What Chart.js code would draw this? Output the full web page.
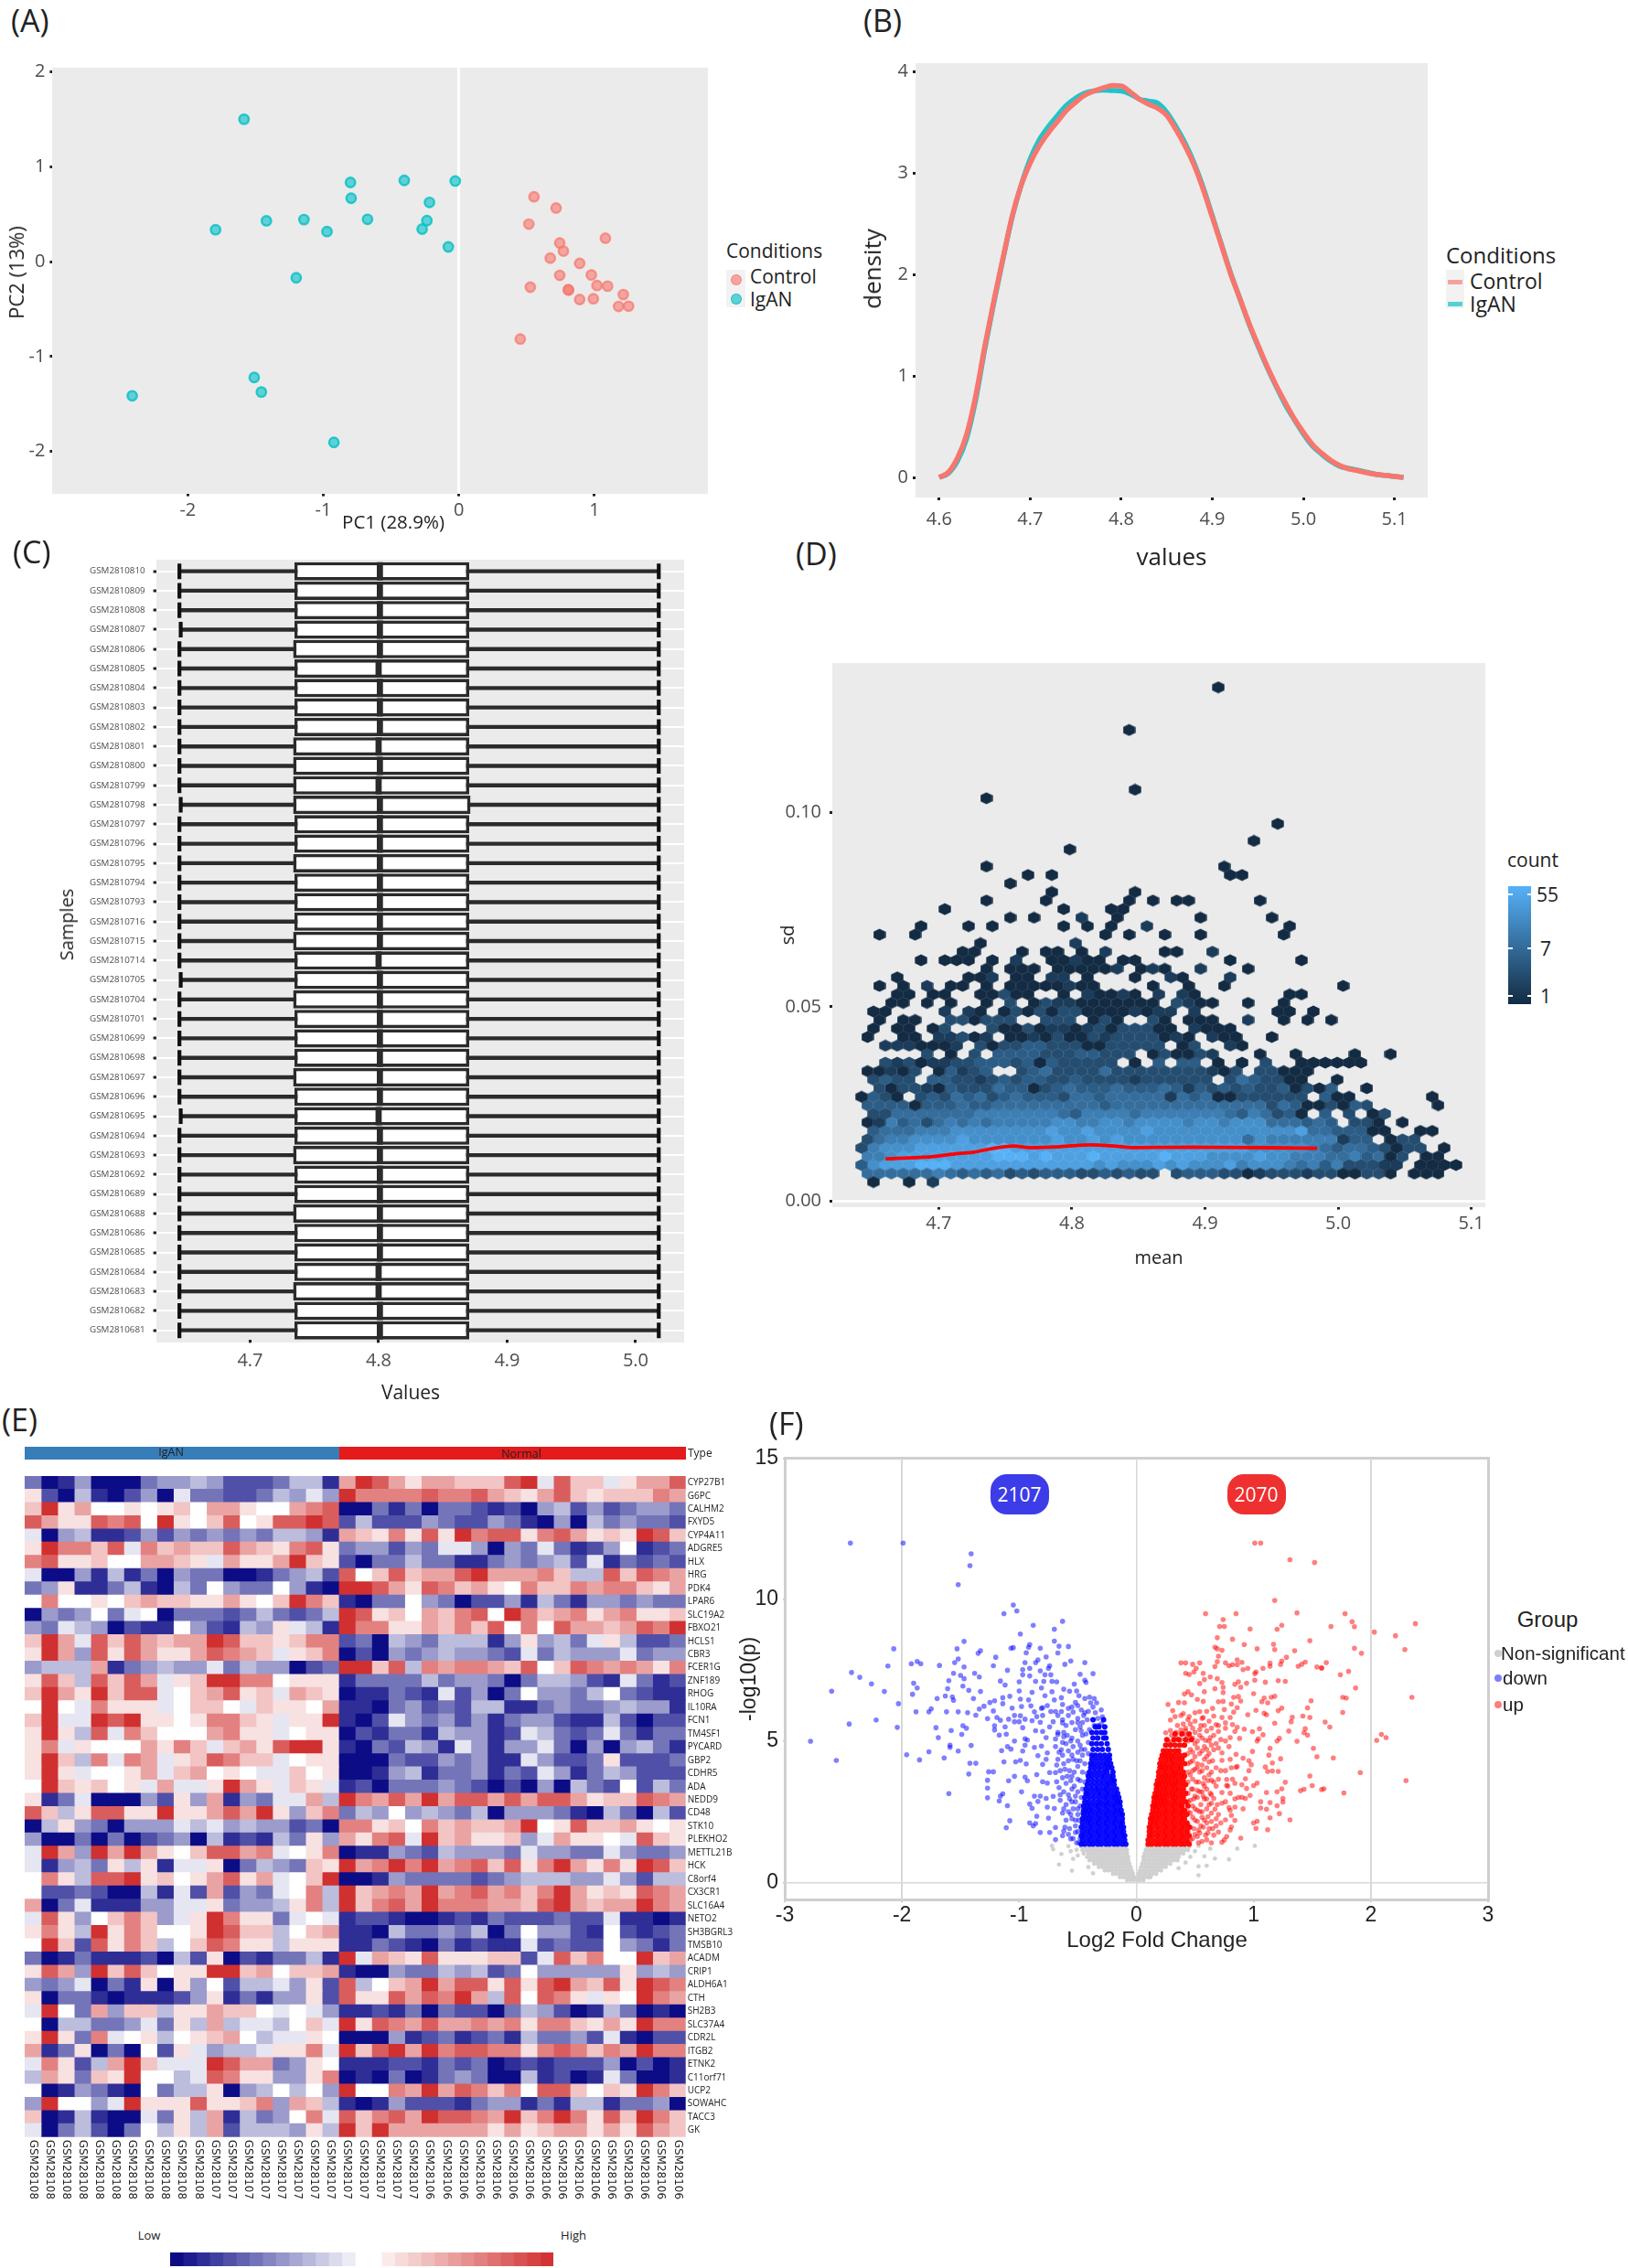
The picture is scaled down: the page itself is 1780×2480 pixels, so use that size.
<!DOCTYPE html>
<html><head><meta charset="utf-8">
<style>html,body{margin:0;padding:0;background:#fff}#page{position:relative;width:1780px;height:2480px;overflow:hidden}canvas{position:absolute}.t{position:absolute;white-space:nowrap;line-height:1}.r{position:absolute}</style>
<script src="https://cdn.jsdelivr.net/npm/chart.js@4/dist/chart.umd.js"></script>
</head><body><div id="page"></div>
<script>
// ---------- (A) PCA ----------
const pcaIgAN=[[-1.585,1.5],[-1.795,.336],[-1.42,.43],[-1.143,.443],[-.973,.317],[-.8,.834],[-.795,.668],[-.674,.446],[-.403,.856],[-.027,.849],[-.217,.624],[-.236,.432],[-.271,.343],[-.078,.155],[-1.2,-.17],[-1.51,-1.22],[-1.457,-1.373],[-2.41,-1.413],[-.922,-1.904]];
const pcaControl=[[.554,.683],[.717,.565],[.516,.395],[1.081,.247],[.744,.196],[.771,.111],[.674,.037],[.891,-.018],[.977,-.14],[.744,-.144],[1.019,-.251],[1.097,-.258],[.527,-.269],[.806,-.295],[.81,-.3],[1.213,-.347],[.891,-.399],[.992,-.391],[1.178,-.472],[1.252,-.469],[.453,-.815]];
// ---------- (B) density ----------
const densityX=[4.6,4.61,4.62,4.63,4.64,4.65,4.66,4.67,4.68,4.69,4.7,4.71,4.72,4.73,4.74,4.75,4.76,4.77,4.78,4.79,4.8,4.81,4.82,4.83,4.84,4.85,4.86,4.87,4.88,4.89,4.9,4.91,4.92,4.93,4.94,4.95,4.96,4.97,4.98,4.99,5.0,5.01,5.02,5.03,5.04,5.05,5.06,5.07,5.08,5.09,5.1,5.11];
const densityControl=[0,.05,.19,.42,.8,1.29,1.74,2.16,2.57,2.88,3.1,3.27,3.4,3.51,3.62,3.7,3.77,3.81,3.84,3.865,3.86,3.8,3.73,3.68,3.64,3.57,3.43,3.27,3.08,2.84,2.565,2.29,2.01,1.77,1.53,1.31,1.1,.91,.74,.58,.445,.325,.24,.17,.117,.083,.066,.045,.03,.02,.01,0];
const densityIgAN=[0,.04,.16,.38,.76,1.26,1.72,2.15,2.56,2.88,3.14,3.33,3.46,3.57,3.67,3.74,3.79,3.81,3.82,3.815,3.81,3.78,3.73,3.71,3.69,3.6,3.46,3.3,3.1,2.86,2.58,2.3,2.02,1.77,1.52,1.3,1.09,.9,.72,.57,.43,.31,.23,.16,.11,.09,.07,.05,.03,.02,.01,0];
// ---------- (C) boxplots ----------
const boxSamples=["GSM2810810","GSM2810809","GSM2810808","GSM2810807","GSM2810806","GSM2810805","GSM2810804","GSM2810803","GSM2810802","GSM2810801","GSM2810800","GSM2810799","GSM2810798","GSM2810797","GSM2810796","GSM2810795","GSM2810794","GSM2810793","GSM2810716","GSM2810715","GSM2810714","GSM2810705","GSM2810704","GSM2810701","GSM2810699","GSM2810698","GSM2810697","GSM2810696","GSM2810695","GSM2810694","GSM2810693","GSM2810692","GSM2810689","GSM2810688","GSM2810686","GSM2810685","GSM2810684","GSM2810683","GSM2810682","GSM2810681"];
const boxLow=[4.645,4.645,4.645,4.646,4.645,4.645,4.645,4.645,4.645,4.645,4.645,4.645,4.646,4.645,4.645,4.645,4.645,4.645,4.645,4.645,4.645,4.646,4.645,4.645,4.645,4.645,4.645,4.645,4.646,4.645,4.645,4.645,4.645,4.645,4.645,4.645,4.645,4.645,4.645,4.645];
const boxQ1=[4.736,4.736,4.736,4.736,4.735,4.736,4.736,4.736,4.736,4.735,4.735,4.735,4.735,4.736,4.736,4.735,4.736,4.736,4.736,4.735,4.736,4.736,4.735,4.736,4.736,4.736,4.735,4.736,4.736,4.736,4.735,4.736,4.736,4.735,4.736,4.736,4.736,4.735,4.736,4.736];
const boxMedian=[4.801,4.801,4.801,4.801,4.801,4.8,4.801,4.801,4.801,4.8,4.801,4.8,4.801,4.801,4.801,4.801,4.801,4.801,4.801,4.801,4.8,4.801,4.801,4.801,4.801,4.801,4.801,4.801,4.8,4.801,4.801,4.801,4.801,4.801,4.801,4.801,4.8,4.8,4.801,4.801];
const boxQ3=[4.869,4.869,4.869,4.869,4.869,4.869,4.869,4.869,4.869,4.869,4.869,4.869,4.87,4.869,4.869,4.869,4.869,4.869,4.869,4.869,4.869,4.869,4.869,4.869,4.869,4.869,4.869,4.869,4.869,4.869,4.869,4.869,4.869,4.869,4.869,4.869,4.869,4.869,4.869,4.869];
const boxHigh=[5.018,5.018,5.018,5.018,5.018,5.018,5.018,5.018,5.018,5.018,5.018,5.018,5.018,5.018,5.018,5.018,5.018,5.018,5.018,5.018,5.018,5.018,5.018,5.018,5.018,5.018,5.018,5.018,5.018,5.018,5.018,5.018,5.018,5.018,5.018,5.018,5.018,5.018,5.018,5.018];
// ---------- (D) hexbin: [row, first column, count levels 1-9, '.'=empty] ----------
const hexMean0=4.65094,hexMeanStep=.008932,hexSd0=.00496,hexSdStep=.002193;
const hexRows=[[0,0,"1..1.2"],
[1,-1,"5555556545453434443343433.3444331233323311331.111"],
[2,-1,"478889998888888888887877787"+"8777867776564633322"+".1111"],
[3,-1,"6678888888899989888988888"+"9"+"88877778776665564513"+".11"],
[4,-1,"3"+"67778888889988888888888888"+"888888777776"+"545543133.1"],
[5,-1,"3566777787777777877878777"+"7777777"+"57666666"+"244.133"],
[6,0,"4555666777777778778777787"+"77777777777"+"85544411..11"],
[7,-1,"1264535656566666776677677"+"7767767"+"77555454"+".331.1"],
[8,0,"3355555556666666546666566"+"666665"+"465341"+".4.3.13"],
[9,-1,"4444144454455555555545555"+"55555555"+"5354113143"+".....1"],
[10,-1,"1"+"431.343545345444355455555"+"2545113333 33".replace(" ","")+".411"],[10,47,"1"],
[11,0,"3133214333544134544454445"+"4243434334"+"1314"+"..1"],
[12,0,"3433.44332"+"3434433433"+"332333"+"333.3543311..1"],
[13,-1,"11213.14234..345333353333"+"33332"+"13.33111"],
[14,1,"3231223344"+"4341433333"+".1.4."+"44.1.1.3..111111"],
[15,4,"3.1.3.444433"+"344333"+".13"+"1132"],[15,32,"1..1....1"],[15,43,"1"],
[16,1,"2221112.3133443331133333.13..21"],
[17,-1,"1..11.2231"+"2.11213113"+"23333121.211"],[17,33,"1"],
[18,0,"1.11.13...3113122123133311.2111"],
[19,0,"1.11..331333..333.131..31.111"],[19,31,"2"],[19,34,"1.1.1"],
[20,0,"11....2.21."+"131313311112122"+".2"],[20,34,"11.1"],
[21,1,"11.1.1..1.3.13221111111.3211"],[21,31,"1"],[21,34,"1"],
[22,2,"11.11..11311..1.21121.2.21"],[22,35,"11"],
[23,0,"1.1.2.11.1.11111211"],[23,23,"1..1..1"],[23,39,"1"],
[24,2,"1.....112.11.22.1...1..21...2"],
[25,9,"1.111.111112.121"],[25,27,"2...1"],
[26,4,"1.111.1.2..11211.11"],[26,30,"1.....1"],
[27,7,"11...1.11.1.2....11..2"],
[28,9,"1.......2"],[29,0,"1..1"],[29,19,"1.1..1..1"],[29,34,"1"],
[30,4,"1...1.1.....1.1.1..2"],[30,35,"1"],
[31,11,"1.1...2..1......1"],[31,33,"1"],
[32,6,"1"],[32,16,"1...11"],[33,9,"1....1"],[33,21,"1.1.11.....1"],[34,15,"1......1"],[35,11,"1"],
[36,13,"1.1"],[36,30,"11"],[37,9,"1"],[37,29,"1"],[39,16,"1"],[40,32,"1"],[42,34,"1"],[45,9,"1"],[46,22,"1"],[53,21,"1"],[58,29,"1"]];
const trendMean=[4.66,4.6944,4.7128,4.7265,4.7403,4.7563,4.7677,4.7884,4.7998,4.8136,4.8318,4.8456,4.8685,4.9132,4.9842];
const trendSd=[.01093,.01147,.01225,.01265,.01359,.01422,.01382,.01398,.01429,.01453,.01422,.01382,.0139,.0139,.01366];
// ---------- (E) heatmap: a..g = low (dark to light), 0 = neutral, 1..6 = high ----------
const heatGenes=["CYP27B1","G6PC","CALHM2","FXYD5","CYP4A11","ADGRE5","HLX","HRG","PDK4","LPAR6","SLC19A2","FBXO21","HCLS1","CBR3","FCER1G","ZNF189","RHOG","IL10RA","FCN1","TM4SF1","PYCARD","GBP2","CDHR5","ADA","NEDD9","CD48","STK10","PLEKHO2","METTL21B","HCK","C8orf4","CX3CR1","SLC16A4","NETO2","SH3BGRL3","TMSB10","ACADM","CRIP1","ALDH6A1","CTH","SH2B3","SLC37A4","CDR2L","ITGB2","ETNK2","C11orf71","UCP2","SOWAHC","TACC3","GK"];
const heatSamples=[].concat(Array(11).fill("GSM28108"),Array(13).fill("GSM28107"),Array(16).fill("GSM28106"));
const heatIgAN=["dabeaaadeefecccdffb","1cafbaceagddccdfege","2613001012033100345","5311545061025015565","gaefbbcecedededffeb","164425g423225321451","4511200332 1g3113621".replace(" ",""),"gaaebfbdaeddaabdefc","de1bbdfbafd0edd0eba","0400102322113102642","aede0dg0adddcdfdcdf","edgfeacbb0ecbfe1gfb","263g525323365221244","163e51531135432g124","efff3bdefeegdfeeacd","152f5253g1266440111","26316255g023512g321","060g4111g0220g21103","26gg65611014421g116","161f5g420003411g011","14g10003142g2315661","162f4g43g125422g011","161g0013g23010gg201","0621201g3gg1631g21g","1bdgaaaec1e3bedgg3f","52f1551161135361e24","af1edaeeegfgefeecda","eaadadacdeafbcbfd1e","g63e63631025534g014","gbefd1f1bgg1adfed21","041f55612013513g026","0ccdcaafbgc3cedg04f","3adgbbbeegg1deef14f","g51e0242eg16411dg0g","141f61420016522f023","062c5142f025411f111","dabdbbbcafc1acbddfb","153e625201166230223","edegadb1a1e0cffge1c","1addbabbbce1bdbee1c","g60d3e22f113220g0ge","0affddegd1f3fggf02g","161d4g01f01230fgg10","3bd1ada0c1geffg114g","g41cf362ggg6533de10","f31d21600fg5411ee14","0abedba0dff1aef0f0e","e600eg611151124e32f","2abfbaagd1f3bfde04g","gadfcad0f1f3cfffe1f"];
const heatNormal=["365313322256g522g1335","644445445321352122243","aadbdaddcbcaefcecdeed","cfcccedccedbaeafdeddc","321415164551453121652","deecedggeaedgdbce0bcd","caddfddbbdedefcgbdcdc","50252335633342ff52543","665315423104224344213","badd0edaccebfdbeededd","651203245064234134112","644113242504053323546","cdafedfffbe1efdg1fccd","acaedefeedcgdfeeegdee","6625f4344325025434314","bddddfdeedadffecbgdbc","abbdcbgcead0eedf0dcbb","bbadecdcffbbdeddefeeb","bacgedecebdeecbbfcacc","acbddbfeebcgfdcdgdbdd","badcfebgebeegdaeaefdb","aaadccedebbgeccd1cccd","aabefbddebdcgebdfeccc","bcadddedcacaeafdc0cfd","643536355353553122543","dfe0efedfaeeedbafdafc","441204232236015223101","3145g623112eg3110g521","abbedcfeeedgeeddgedde","634646345251463141652","aabeddddcdefffeegecff","623436345342463121543","624536444332563233643","bccbaabcbdcccdccgbbab","bbafddedfad0eecb0cbcd","bbdcbadbcbbgcdcc0edbd","6g321511122cg52400623","baaeddfefcd0eeeee1efe","5f0236355151563251654","511535463f50541g10643","bbcbdadccadfecabfdaba","615435334341442131644","aaaebcdbcdbfddecgbacc","625636455441454243644","bbbccbdcdabcbccceacab","abadabdedaafbcabgdaab","600436354240552021642","babecccbdeebdbffbddea","524536554362464152642","626333333131233131532"];
// ---------- (F) volcano ----------
const downPoints=[[-2.44,12],[-1.99,12],[-1.41,11.62],[-1.42,11.2],[-1.52,10.53],[-1.05,9.81],[-1.02,9.6],[-1.13,9.5],[-.63,9.23],[-.88,9.09],[-.7,8.95],[-.99,8.78],[-1.47,8.52],[-.7,8.53],[-2.07,8.26],[-1.53,8.26],[-1.07,8.28],[-1.05,8.3],[-.91,8.41],[-.92,8.31],[-.82,8.28],[-.66,8.35],[-.58,8.34],[-1.33,8.19],[-1.35,8.1],[-.94,8.12],[-.67,8.11],[-1.2,7.96],[-1.52,7.9],[-.77,7.97],[-.84,7.87],[-.86,7.77],[-1.92,7.73],[-1.87,7.81],[-1.84,7.73],[-1.55,7.77],[-2.12,7.65],[-1.68,7.67],[-1.47,7.62],[-1.22,7.66],[-.95,7.77],[-.91,7.57],[-.74,7.66],[-.75,7.57],[-.61,7.71],[-.56,7.83],[-.44,7.77],[-2.43,7.42],[-2.36,7.25],[-2.26,7.02],[-2.6,6.76],[-2.15,6.75],[-2.03,6.32],[-2.22,5.74],[-2.45,5.6],[-2.04,5.48],[-2.78,4.99],[-2.56,4.31],[-1.96,4.51],[-1.85,4.33],[-1.77,4.62],[-1.64,4.4],[-1.59,4.85],[-1.59,4.77],[-1.52,4.64],[-1.41,4.84],[-1.42,4.21],[-1.37,4.21],[-1.43,3.83],[-1.26,3.91],[-1.22,3.91],[-1.27,3.61],[-1.27,3.33],[-1.27,2.99],[-1.6,3.14],[-1.17,2.88],[-1.16,3.05],[-1.14,3.13],[-1.1,2.71],[-1.08,2.18],[-1.11,1.93],[-1.04,3.75],[-1.09,3.59],[-.98,3.2],[-.95,3.72],[-.93,3.59],[-1.13,4.26],[-1.03,4.26],[-.99,4.31],[-.94,4.19],[-1.15,4.66],[-1.07,4.71],[-1.04,5],[-1.1,4.8],[-.97,4.64],[-.95,4.85],[-.95,5.08],[-.93,5.03],[-1.17,5.21],[-1.11,5.24],[-1.12,5.5],[-1.21,5.54],[-1.21,5.39],[-1.19,5.83],[-1.16,5.73],[-1.27,5.79],[-1.22,6.06],[-1.34,6.13],[-1.3,6.23],[-1.25,6.36],[-1.21,6.42],[-1.37,5.91],[-1.44,6],[-1.52,6.03],[-1.62,6.03],[-1.88,6.03],[-1.77,6.03],[-1.75,6.14],[-1.71,5.47],[-1.69,5.12],[-1.58,5.37],[-1.49,5.23],[-1.48,5.54],[-1.45,5.45],[-1.7,6.5],[-1.91,6.65],[-1.87,6.87],[-1.9,7.04],[-1.63,6.59],[-1.61,6.85],[-1.57,6.56],[-1.56,6.44],[-1.39,6.5],[-1.43,6.79],[-1.33,6.75],[-1.48,6.94],[-1.6,7.13],[-1.56,7.39],[-1.5,7.32],[-1.47,7.2],[-1.38,7.39],[-1.34,7.26],[-1.16,7.12],[-1.12,6.98],[-1.1,7.5],[-1,7.09],[-1.14,6.53],[-1.08,6.58],[-1.14,6.32],[-.99,6.48],[-1,6.77],[-1.06,6.16],[-.98,6.22],[-1.04,5.9],[-.99,5.89],[-1.09,5.77],[-1.04,5.68],[-1,5.68],[-.95,5.77],[-.97,5.47],[-.92,6.45],[-.97,7.52],[-.97,7.34],[-.91,7.3],[-.82,7.48],[-.78,7.34],[-.73,7.34],[-.86,7.11],[-.79,7.11],[-.72,7.11],[-.68,7.09],[-.48,7.36],[-.37,7.38],[-.44,7.15],[-.43,7.07],[-.53,7.01],[-.51,6.77],[-.57,6.76],[-.62,6.83],[-.81,6.87],[-.89,6.72],[-.72,6.74],[-.49,6.6],[-.78,6.6],[-.7,6.45],[-.64,6.53],[-.52,6.36],[-.9,6.24],[-.8,6.18],[-.76,6.25],[-.69,6.04],[-.63,6.29],[-.58,6.15],[-.54,6.02],[-.87,6.03],[-.81,6.15],[-.85,5.86],[-.8,5.9],[-.73,6.04],[-.64,6.04],[-.89,5.72],[-.82,5.66],[-.71,5.68],[-.63,5.64],[-.86,5.36],[-.8,5.34],[-.74,5.5],[-.67,5.23],[-.77,5.12],[-.69,5.07],[-.62,5.15],[-.81,4.82],[-.87,4.77],[-.76,4.58],[-.69,4.8],[-.64,4.69],[-.84,4.48],[-.77,4.35],[-.8,4.17],[-.68,4.15],[-.85,3.81],[-.74,3.88],[-.69,3.88],[-.8,3.56],[-.76,3.51],[-.68,3.56],[-.87,3.05],[-.82,3.05],[-.77,2.97],[-.71,3.04],[-.91,2.77],[-.89,2.62],[-.84,2.86],[-.76,2.66],[-.7,2.61],[-.85,2.34],[-.75,2.27],[-.91,2.1],[-.86,2.08],[-.88,2],[-.82,1.76],[-.74,1.76],[-.69,1.94],[-.62,1.81],[-.69,1.51],[-.56,1.54],[-.52,1.76],[-.51,1.4],
[-.62,5.3],[-.6,4.9],[-.63,4.5],[-.58,4.3],[-.61,4],[-.57,3.95],[-.63,3.7],[-.6,3.5],[-.56,3.6],[-.62,3.2],[-.58,3.1],[-.65,2.9],[-.6,2.75],[-.55,2.85],[-.63,2.45],[-.58,2.5],[-.54,2.6],[-.6,2.2],[-.55,2.25],[-.61,1.95],[-.57,1.9],[-.52,2],[-.5,2.4],[-.52,2.85],[-.5,3.2],[-.53,3.4],[-.5,3.65],[-.53,3.9],[-.5,4.1],[-.54,4.35],[-.5,4.6],[-.54,4.8],[-.5,5],[-.55,5.1],[-.52,5.4],[-.48,5.5],[-.46,5.2],[-.48,4.85],[-.46,4.5],[-.48,4.3],[-.46,3.9],[-.48,3.6],[-.46,3.3],[-.47,3],[-.48,2.7],[-.49,2.2],[-.5,1.8],[-.48,1.55],[-.55,5.65],[-.5,5.8],[-.45,5.9],[-.42,5.75],[-.46,5.65],[-.41,6.05],[-.37,6.2],[-.39,6.35],[-.35,6],[-.33,5.8],[-.3,5.6],[-.36,5.55],[-.4,5.4],[-.43,5.25],[-.41,4.95],[-.44,4.7],[-.41,4.55],[-.44,4.2],[-.42,3.85],[-.44,3.55],
[-.66,4.6],[-.63,4.95],[-.67,5.3],[-.6,5.55],[-.63,5.75],[-.67,5.9],[-.58,5.9],[-.55,6.2],[-.5,6.25],[-.47,6.1],[-.44,6.5],[-.4,6.55],[-.36,6.5],[-.58,4.65],[-.55,4.5],[-.67,4.35],[-.62,4.2],[-.65,3.95],[-.59,3.75],[-.66,3.35],[-.55,3.3],[-.65,3.1],[-.57,2.95],[-.62,2.6],[-.56,2.4],[-.5,2.6],[-.46,2.45],[-.52,2.2],[-.58,1.7],[-.54,1.55],[-.63,1.65],[-.49,1.4],[-.52,3.05],[-.55,3.75],[-.51,4.3],[-.47,4.7],[-.56,5],[-.59,5.2],[-.47,5.35],[-.5,5.65],[-.44,6],[-.34,6.35],[-.3,6.1],[-.33,5.55],[-.29,5.85]];
const downDenseRows=[
[1.35,-.47,-.44,-.4,-.37,-.33,-.3,-.26,-.23,-.19,-.16,-.12,-.09],
[1.5,-.46,-.42,-.39,-.35,-.32,-.28,-.25,-.21,-.18,-.14,-.1],
[1.65,-.47,-.44,-.4,-.37,-.33,-.3,-.26,-.23,-.19,-.16,-.12,-.1],
[1.8,-.46,-.42,-.39,-.35,-.32,-.28,-.25,-.21,-.18,-.14,-.11],
[1.95,-.47,-.44,-.4,-.37,-.33,-.3,-.26,-.23,-.19,-.16,-.13,-.11],
[2.1,-.46,-.42,-.39,-.35,-.32,-.28,-.25,-.21,-.18,-.14,-.12],
[2.25,-.46,-.43,-.4,-.37,-.33,-.3,-.26,-.23,-.19,-.16,-.12],
[2.4,-.45,-.42,-.39,-.35,-.32,-.28,-.25,-.21,-.18,-.14,-.12],
[2.55,-.45,-.43,-.4,-.37,-.33,-.3,-.26,-.23,-.19,-.16,-.13],
[2.7,-.45,-.42,-.39,-.35,-.32,-.28,-.25,-.21,-.18,-.14],
[2.85,-.44,-.41,-.37,-.33,-.3,-.26,-.23,-.19,-.16,-.14],
[3,-.44,-.4,-.36,-.32,-.28,-.25,-.21,-.18,-.15],
[3.15,-.43,-.41,-.37,-.33,-.3,-.26,-.23,-.19,-.16],
[3.3,-.43,-.39,-.35,-.32,-.28,-.25,-.21,-.17],
[3.45,-.42,-.38,-.34,-.3,-.26,-.23,-.19],
[3.6,-.41,-.37,-.33,-.29,-.25,-.21,-.19],
[3.75,-.41,-.38,-.34,-.3,-.27,-.23,-.2],
[3.9,-.4,-.36,-.32,-.28,-.25,-.2],
[4.05,-.39,-.35,-.31,-.27,-.24,-.21],
[4.2,-.39,-.36,-.32,-.28,-.25,-.22],
[4.35,-.38,-.34,-.3,-.26,-.23],
[4.5,-.38,-.35,-.31,-.27,-.23],
[4.7,-.37,-.33,-.29,-.24],
[4.9,-.38,-.34,-.3,-.25],
[5.1,-.37,-.33,-.28,-.26],
[5.3,-.38,-.34,-.3,-.27],
[5.5,-.35,-.32,-.27],
[5.75,-.37,-.28]];
const upPoints=[[1.01,12],[1.06,12],[1.31,11.41],[1.52,11.31],[1.18,9.97],[.59,9.5],[.85,9.5],[1.37,9.53],[1.78,9.5],[.74,9.29],[1.84,9.22],[2.38,9.15],[.71,9.05],[.75,9.05],[1.86,9.04],[1.66,9.05],[1.24,9.09],[1.2,8.95],[.97,8.96],[2.03,8.85],[2.21,8.72],[.69,8.65],[.82,8.6],[1.48,8.55],[.92,8.41],[1.17,8.42],[1.03,8.26],[1.18,8.23],[.67,8.31],[.69,8.26],[.73,8.21],[1.86,8.28],[2.29,8.23],[1.35,8.19],[1.92,8.1],[.7,8],[1.28,7.96],[1.24,7.83],[.86,7.87],[.69,7.8],[.38,7.76],[.42,7.76],[.48,7.71],[.54,7.76],[.76,7.76],[.79,7.66],[.82,7.7],[.86,7.7],[.9,7.78],[.67,7.63],[.51,7.57],[.91,7.52],[.95,7.57],[1.08,7.57],[1.14,7.75],[1.14,7.64],[1.23,7.71],[1.38,7.64],[1.41,7.71],[1.44,7.79],[1.54,7.62],[1.58,7.59],[1.58,7.57],[1.62,7.77],[1.81,7.46],[1.74,7.34],[.49,7.44],[.42,7.39],[.45,7.35],[.57,7.39],[.63,7.26],[1.02,7.44],[1.01,7.38],[.69,7.2],[.58,7.17],[1.01,7.15],[1.1,7.08],[1.21,7.13],[1.27,7.11],[.94,7.04],[.87,7.09],[.84,7],[.89,6.9],[.73,7.07],[.54,7.03],[1.87,6.87],[.67,6.85],[.74,6.9],[1,6.67],[.58,6.74],[.74,6.71],[.44,6.74],[.41,6.66],[.47,6.63],[1.76,6.54],[1.79,6.52],[2.35,6.54],[.83,6.54],[.87,6.57],[.89,6.41],[1.09,6.52],[1.15,6.54],[1.18,6.58],[1.07,6.39],[1.12,6.35],[1.49,6.42],[.27,6.29],[.36,6.36],[.41,6.35],[.52,6.47],[.57,6.4],[.7,6.39],[.74,6.4],[.81,6.31],[.86,6.18],[1.46,6.17],[1.24,6.16],[1.21,6.07],[1.02,6.08],[.31,6.07],[.95,5.93],[1.09,5.98],[1.11,5.93],[1.42,5.88],[1.48,5.83],[1.33,5.84],[1.76,6.01],[1.61,5.67],[1.65,5.49],[1.32,5.68],[1.18,5.63],[.83,6.02],[.75,6.11],[.65,6.15],[.54,6.04],[.4,5.97],[.45,5.86],[.29,5.74],[.33,5.86],[.57,5.83],[.66,5.88],[.73,5.83],[.8,5.83],[.76,5.64],[.68,5.58],[.82,5.58],[.86,5.48],[.92,5.42],[.25,5.29],[.29,5.37],[.38,5.39],[1.05,5.43],[.99,5.33],[1.44,5.43],[1.3,5.35],[1.43,5.29],[1.46,5.21],[1.08,5.22],[.8,5.12],[.88,5.09],[.7,5.34],[.84,5.34],[1.04,5.08],[1.03,5],[1.22,5.09],[1.2,5],[1.37,4.99],[2.09,5.23],[2.13,5.12],[2.05,5.02],[1.51,4.74],[1.14,4.74],[.99,4.63],[1.54,4.44],[1.68,4.4],[1.13,4.5],[.91,4.39],[1.23,4.37],[.96,4.3],[1.16,4.22],[.98,4.16],[1.1,4.08],[.81,4.05],[.85,4.07],[.96,3.95],[1.12,3.92],[1.16,3.94],[1.21,3.92],[1.91,3.88],[1.48,3.76],[.93,3.66],[2.3,3.6],[1.27,3.54],[1.5,3.42],[1.03,3.51],[1,3.42],[.77,3.43],[.94,3.32],[1.24,3.31],[1.43,3.29],[1.4,3.24],[1.58,3.28],[1.6,3.31],[1.11,3.18],[1.2,3.2],[1.77,3.16],[.97,3.07],[.9,3.01],[.93,2.97],[1.25,2.97],[1.06,2.85],[1.14,2.82],[1.25,2.84],[1.2,2.71],[1.06,2.63],[1.11,2.59],[.91,2.6],[.84,2.66],[.79,2.64],[1.22,2.43],[1.14,2.28],[1.31,2.21],[1.03,2.16],[1,2.1],[1.02,1.91],[1.12,1.86],[.89,1.56],[.81,2.37],[.81,1.96],[.77,1.62],[.73,1.42],[.84,2.19],[.76,2.21],[.68,2],[.7,1.78],[.66,1.67],[.64,1.4],[.73,3.18],[.8,3.15],[.66,2.97],[.73,2.8],[.67,2.59],[.61,2.32],[.68,3.4],[.64,3.61],[.77,3.64],[.68,4.05],[.73,4.31],[.66,4.69],[.73,4.58],[.85,4.53],[.79,4.8],[.63,5.12],[.59,5.02],[.68,4.91],[.62,4.26],[.58,3.4],[.55,2.75],[.55,2],[.59,1.67],[.53,1.4],[.62,2.75],
[.46,1.5],[.5,1.7],[.46,1.95],[.5,2.2],[.46,2.45],[.5,2.6],[.46,2.9],[.5,3.05],[.47,3.3],[.51,3.55],[.46,3.8],[.5,4],[.46,4.25],[.5,4.45],[.46,4.7],[.5,4.9],[.46,5.1],[.5,5.3],[.42,5.45],[.46,5.6],[.54,1.75],[.58,2.2],[.54,2.5],[.58,2.95],[.54,3.2],[.58,3.7],[.54,3.9],[.58,4.35],[.54,4.55],[.58,4.8],[.54,5.2],[.6,5.35],[.55,5.55],[.62,1.9],[.63,3.15],[.62,3.8],[.62,4.55],[.38,5.05],[.34,5.1],[.3,4.95],[.43,5.2],[.27,5],
[.44,1.42],[.48,1.55],[.52,1.62],[.56,1.45],[.6,1.5],[.44,1.8],[.49,1.9],[.53,1.85],[.57,1.95],[.61,1.75],[.65,1.9],[.44,2.05],[.48,2.3],[.52,2.15],[.56,2.3],[.6,2.1],[.64,2.15],[.68,2.25],[.72,2.1],[.44,2.5],[.48,2.7],[.52,2.55],[.56,2.5],[.6,2.6],[.64,2.45],[.7,2.4],[.44,2.85],[.49,2.95],[.52,3],[.57,3.05],[.6,2.95],[.64,2.8],[.69,2.75],[.44,3.15],[.48,3.3],[.52,3.25],[.56,3.2],[.6,3.3],[.64,3.1],[.44,3.55],[.48,3.65],[.53,3.55],[.57,3.5],[.61,3.6],[.66,3.55],[.7,3.65],[.44,3.9],[.48,3.95],[.52,4.05],[.56,3.95],[.6,4.05],[.64,3.9],[.72,3.95],[.44,4.2],[.48,4.3],[.52,4.2],[.56,4.15],[.6,4.45],[.65,4.3],[.44,4.55],[.48,4.6],[.52,4.75],[.56,4.65],[.6,4.7],[.64,4.85],[.7,4.75],[.4,4.85],[.44,5],[.48,5.1],[.52,5],[.56,5.1],[.62,5],[.66,5.2],[.72,5.05],[.76,5],[.3,5.2],[.34,5.3],[.38,5.25],[.42,5.35],[.48,5.45],[.54,5.4],[.58,5.55],[.64,5.45],[.7,5.55],[.76,5.45],[.35,5.55],[.4,5.6],[.44,5.75],[.5,5.7],[.56,5.8],[.62,5.7],[.38,5.9],[.5,6],[.6,6.05],[.76,2.85],[.8,2.55],[.78,3.4],[.82,3.65],[.76,3.95],[.8,4.35],[.86,4.1],[.8,1.85],[.75,1.5],[.87,3],[.84,2.95],[.84,3.5],[.9,3.45]];
const upDenseRows=[
[1.35,.1,.13,.17,.2,.24,.27,.31,.34,.38,.41,.45],
[1.5,.1,.14,.18,.22,.25,.29,.32,.36,.39,.43],
[1.65,.11,.13,.17,.2,.24,.27,.31,.34,.38,.41,.45],
[1.8,.11,.14,.18,.22,.25,.29,.32,.36,.39,.43],
[1.95,.11,.13,.17,.2,.24,.27,.31,.34,.38,.41,.45],
[2.1,.12,.15,.18,.22,.25,.29,.32,.36,.39,.43],
[2.25,.12,.14,.17,.2,.24,.27,.31,.34,.38,.41],
[2.4,.13,.16,.19,.22,.25,.29,.32,.36,.39,.43],
[2.55,.14,.17,.2,.24,.27,.31,.34,.38,.41],
[2.7,.14,.16,.19,.22,.25,.29,.32,.36,.39,.44],
[2.85,.15,.18,.21,.24,.27,.31,.34,.38,.42],
[3,.15,.17,.2,.23,.26,.3,.33,.36,.4],
[3.15,.16,.19,.22,.25,.28,.31,.34,.38,.42],
[3.3,.17,.2,.23,.26,.3,.33,.36,.4],
[3.45,.17,.19,.22,.25,.28,.31,.34,.38,.42],
[3.6,.18,.21,.24,.27,.3,.33,.36,.4],
[3.75,.19,.22,.25,.28,.31,.34,.38,.41],
[3.9,.19,.23,.26,.3,.33,.36,.4],
[4.05,.2,.22,.25,.28,.31,.35,.38],
[4.2,.2,.23,.26,.3,.33,.37,.41],
[4.35,.21,.25,.28,.31,.35,.39],
[4.5,.22,.24,.27,.3,.33,.37,.41],
[4.65,.23,.26,.29,.33,.36],
[4.85,.25,.29,.33,.37,.41],
[5.05,.26,.32,.36,.42,.47],
[5.25,.33,.39,.45]];
const greyRows=[
[1.26,-.47,-.44,-.41,-.38,-.35,-.32,-.29,-.26,-.23,-.2,-.17,-.14,-.11,-.09,.09,.12,.15,.18,.21,.24,.27,.3,.33,.36,.39,.42,.45],
[1.14,-.46,-.43,-.4,-.37,-.34,-.31,-.28,-.25,-.22,-.19,-.16,-.13,-.1,-.08,.08,.11,.14,.17,.2,.23,.26,.29,.32,.35,.38,.41,.44],
[1.02,-.45,-.41,-.38,-.35,-.32,-.29,-.26,-.23,-.2,-.17,-.14,-.11,-.08,.07,.1,.13,.16,.19,.22,.25,.28,.31,.34,.37,.4],
[.9,-.42,-.39,-.36,-.33,-.3,-.27,-.24,-.21,-.18,-.15,-.12,-.09,-.07,.06,.09,.12,.15,.18,.21,.24,.27,.3,.33,.36],
[.78,-.4,-.37,-.34,-.31,-.28,-.25,-.22,-.19,-.16,-.13,-.1,-.07,.06,.08,.11,.14,.17,.2,.23,.26,.29,.32,.35],
[.66,-.36,-.33,-.3,-.27,-.24,-.21,-.18,-.15,-.12,-.09,-.06,.05,.08,.11,.14,.17,.2,.23,.26,.29],
[.54,-.32,-.29,-.26,-.23,-.2,-.17,-.14,-.11,-.08,-.05,.04,.07,.1,.13,.16,.19,.22,.25],
[.42,-.27,-.24,-.21,-.18,-.15,-.12,-.09,-.06,-.04,.03,.06,.09,.12,.15,.18,.21],
[.3,-.2,-.17,-.14,-.11,-.08,-.05,-.03,.02,.05,.08,.11,.14,.17],
[.18,-.14,-.11,-.08,-.05,-.02,.02,.04,.07,.1,.12],
[.08,-.08,-.05,-.02,.01,.03,.06],
[1.29,-.72],[1.17,-.71],[1,-.64],[.63,-.66],[.41,-.55],[.83,-.54],[1.28,-.58],[1.1,-.56],[1.15,-.51],[.54,-.41],[.32,-.37],[.95,-.5],
[1.29,1.01],[1.19,.86],[.81,.79],[.84,.67],[.59,.6],[.56,.53],[.25,.53],[.92,.58],[1.19,.63],[1.29,.53],[1.1,.5],[.9,.46],[.7,.42],[.5,.36]];

// ---------- helpers ----------
const page=document.getElementById('page');
const OS='"Open Sans"',LS='"Liberation Sans"',INK='#4d4d4d',TICK='#222';
function txt(s,x,y,o={}){const d=document.createElement('div');d.className='t';d.textContent=s;
 const a=o.anchor||'l',tx=a==='l'?'0':a==='c'?'-50%':'-100%';
 d.style.cssText=`left:${x}px;top:${y}px;font-family:${o.family||OS};font-size:${o.size||20}px;color:${o.color||'#222'};transform:translate(${tx},-50%)${o.rot?` rotate(${o.rot}deg)`:''};`;
 page.appendChild(d);return d;}
function rect(x,y,w,h,bg,extra=''){const d=document.createElement('div');d.className='r';d.style.cssText=`left:${x}px;top:${y}px;width:${w}px;height:${h}px;background:${bg};${extra}`;page.appendChild(d);return d;}
function mkCanvas(b){const c=document.createElement('canvas');const w=b.r-b.l,h=b.b-b.t;c.width=w;c.height=h;c.style.cssText=`left:${b.l}px;top:${b.t}px;width:${w}px;height:${h}px`;page.appendChild(c);return c;}
function plotChart(b,p,cfg,yRight){const c=mkCanvas(b);cfg.options=cfg.options||{};const o=cfg.options;o.responsive=false;o.animation=false;o.devicePixelRatio=1;
 o.plugins=Object.assign({legend:{display:false},tooltip:{enabled:false}},o.plugins||{});
 const xHidden=o.scales.x.display===false;
 o.layout={padding:{top:p.t-b.t,left:yRight?p.l-b.l:0,right:yRight?0:b.r-p.r,bottom:xHidden?b.b-p.b:0}};
 if(!xHidden)o.scales.x.afterFit=s=>{s.height=b.b-p.b};
 o.scales.y.afterFit=s=>{s.width=yRight?b.r-p.r:p.l-b.l};
 return new Chart(c,cfg);}
function axisX(min,max,step,fmt,font,pad,extra={}){return Object.assign({type:'linear',min,max,border:{display:false},
 grid:{drawOnChartArea:false,tickLength:3,tickWidth:3,tickColor:TICK},
 ticks:{stepSize:step,includeBounds:false,autoSkip:false,maxRotation:0,padding:pad,color:INK,font:{family:OS,size:font},callback:fmt}},extra);}
const fx0=v=>String(v),fx1=v=>Number(v).toFixed(1),fx2=v=>Number(v).toFixed(2);
const tp=a=>a.map(([x,y])=>({x,y}));
const fromRows=rows=>rows.flatMap(([y,...xs])=>xs.map(x=>({x,y})));

// ---------- (A) ----------
rect(57.4,73.5,716.6,466.1,'#EBEBEB');
{const pt=(d,f,bd)=>({data:tp(d),showLine:false,pointRadius:5.2,pointBorderWidth:2.4,backgroundColor:f,borderColor:bd,pointBackgroundColor:f,pointBorderColor:bd});
plotChart({l:5,t:50,r:790,b:590},{l:57.4,t:73.5,r:774,b:539.6},{type:'scatter',data:{datasets:[
 Object.assign({label:'Control'},pt(pcaControl,'rgba(248,118,109,.6)','rgba(248,118,109,.72)')),
 Object.assign({label:'IgAN'},pt(pcaIgAN,'rgba(0,191,196,.6)','rgba(0,191,196,.8)'))]},
 options:{scales:{
  x:axisX(-2.998,1.837,1,fx0,20,4,{grid:{drawOnChartArea:true,color:c=>c.tick&&c.tick.value===0?'#fff':'rgba(0,0,0,0)',lineWidth:3,tickLength:3,tickWidth:3,tickColor:TICK}}),
  y:axisX(-2.442,2.048,1,fx0,20,5)}}});}
txt('PC2 (13%)',17,298,{anchor:'c',size:22,rot:-90});
txt('PC1 (28.9%)',430,570,{anchor:'c',size:20.5});
txt('(A)',12,22,{size:34});
txt('Conditions',794,274,{size:21});
rect(794,295,21,41,'#F2F2F2');
rect(798.5,299.5,10,10,'rgba(248,118,109,.62)','border-radius:50%;border:1px solid rgba(248,118,109,.7);box-sizing:content-box');
rect(798.5,320.5,10,10,'rgba(0,191,196,.62)','border-radius:50%;border:1px solid rgba(0,191,196,.8)');
txt('Control',820,302,{size:21});txt('IgAN',820,327,{size:21});

// ---------- (B) ----------
rect(1001,69.3,560,474.7,'#EBEBEB');
plotChart({l:939,t:50,r:1575,b:626},{l:1001,t:69.3,r:1561,b:544},{type:'line',data:{datasets:[
 {label:'Control',order:1,data:densityX.map((x,i)=>({x,y:densityControl[i]})),borderColor:'#F8766D',borderWidth:5.5,pointRadius:0,cubicInterpolationMode:'monotone',borderCapStyle:'butt'},
 {label:'IgAN',order:2,data:densityX.map((x,i)=>({x,y:densityIgAN[i]})),borderColor:'#22C3C8',borderWidth:5.5,pointRadius:0,cubicInterpolationMode:'monotone',borderCapStyle:'butt'}]},
 options:{scales:{
  x:Object.assign(axisX(4.574,5.1366,.1,fx1,20,9),{title:{display:true,text:'values',color:'#222',padding:0,font:{family:OS,size:26}}}),
  y:axisX(-.198,4.083,1,fx0,20,5)}}});
txt('density',953,294,{anchor:'c',size:26,rot:-90});
txt('(B)',944,22,{size:34});
txt('Conditions',1581,279,{size:24});
rect(1581,295,20,42,'#F2F2F2');
rect(1583,306,16,4.5,'rgba(248,118,109,.65)');rect(1583,330,16,4.5,'rgba(0,191,196,.65)');
txt('Control',1607,307,{size:23});txt('IgAN',1607,332,{size:23});

// ---------- (C) ----------
rect(170.6,611.7,577.2,856,'#EBEBEB');
{const barSet=(label,data,thick,order,bg,bd,bw)=>({label,data,grouped:false,barThickness:thick,order,backgroundColor:bg,borderColor:bd,borderWidth:bw,borderSkipped:false,inflateAmount:0});
const k='#2b2b2b';
plotChart({l:60,t:595,r:760,b:1510},{l:170.6,t:614,r:747.8,b:1465.3},{type:'bar',data:{labels:boxSamples,datasets:[
 barSet('whisker',boxSamples.map((s,i)=>[boxLow[i],boxHigh[i]]),4.4,3,k,k,0),
 barSet('box',boxSamples.map((s,i)=>[boxQ1[i]-.0015,boxQ3[i]+.0015]),20,2,'#fff',k,3.6),
 barSet('median',boxSamples.map((s,i)=>[boxMedian[i]-.0024,boxMedian[i]+.0024]),20,1,k,k,0),
 barSet('lowCap',boxLow.map(v=>[v-.0015,v+.0015]),17,1,'#111','#111',0),
 barSet('highCap',boxHigh.map(v=>[v-.0015,v+.0015]),17,1,'#111','#111',0)]},
 options:{indexAxis:'y',scales:{
  x:axisX(4.6268,5.0376,.1,fx1,20,8),
  y:{type:'category',border:{display:false},grid:{drawOnChartArea:true,color:'#fff',lineWidth:2,tickLength:3,tickWidth:3,tickColor:TICK,offset:false},
     ticks:{autoSkip:false,padding:9,color:INK,font:{family:OS,size:9.8}}}}}});}
txt('Samples',73,1011,{anchor:'c',size:20,rot:-90});
txt('Values',449,1522,{anchor:'c',size:21});
txt('(C)',14,603,{size:34});

// ---------- (D) ----------
rect(910,725,714,594.6,'#EBEBEB');
{const hexColor=l=>{const t=(l-1)/8,a=[0x13,0x2B,0x43],b=[0x56,0xB1,0xF7];return `rgb(${a.map((v,i)=>Math.round(v+(b[i]-v)*t)).join(',')})`;};
const hexImg=l=>{const c=document.createElement('canvas');c.width=14;c.height=14;const g=c.getContext('2d');g.fillStyle=hexColor(l);g.beginPath();
 const w=6.7,h=6.6;[[0,-h],[w,-h/2],[w,h/2],[0,h],[-w,h/2],[-w,-h/2]].forEach(([x,y],i)=>{i?g.lineTo(7+x,7+y):g.moveTo(7+x,7+y)});g.closePath();g.fill();return c;};
const byLevel={};hexRows.forEach(([r,c0,s])=>[...s].forEach((ch,i)=>{if(ch==='.')return;const c=c0+i;(byLevel[ch]=byLevel[ch]||[]).push({x:hexMean0+hexMeanStep*(c+(r%2)/2),y:hexSd0+hexSdStep*r});}));
const ds=Object.keys(byLevel).map(l=>({type:'scatter',label:'count level '+l,order:5,data:byLevel[l],showLine:false,pointStyle:hexImg(+l),pointRadius:6.5,pointHoverRadius:6.5}));
ds.push({type:'line',label:'trend',order:1,data:trendMean.map((x,i)=>({x,y:trendSd[i]})),borderColor:'#FF0000',borderWidth:3.8,pointRadius:0,tension:.2});
plotChart({l:850,t:700,r:1632,b:1388},{l:910,t:725,r:1624,b:1319.6},{data:{datasets:ds},options:{scales:{
 x:Object.assign(axisX(4.62,5.1106,.1,fx1,20,3.5),{title:{display:true,text:'mean',color:'#222',padding:0,font:{family:OS,size:20}}}),
 y:Object.assign(axisX(-.0014,.1384,.05,fx2,20,9,{grid:{drawOnChartArea:true,color:c=>c.tick&&c.tick.value===0?'#fff':'rgba(0,0,0,0)',lineWidth:3,tickLength:3,tickWidth:3,tickColor:TICK}}),{title:{display:true,text:'sd',color:'#222',padding:0,font:{family:OS,size:20}}})}}});}
txt('(D)',870,605,{size:34});
txt('count',1648,940,{size:21});
rect(1648.7,969,25.8,129,'linear-gradient(to top,#132B43,#56B1F7)');
[978,1037,1089].forEach(y=>{rect(1648.7,y-.7,5,1.4,'#fff');rect(1669.5,y-.7,5,1.4,'#fff');});
txt('55',1680,978,{size:21});txt('7',1690,1037,{size:21,anchor:'c'});txt('1',1690,1089,{size:21,anchor:'c'});

// ---------- (E) ----------
const heatPalette={a:'#0c0c86',b:'#2e2e96',c:'#5050a8',d:'#7474b9',e:'#9b9bcc',f:'#bcbcdd',g:'#e6e6f2','0':'#ffffff','1':'#f8e1e1','2':'#f2c4c4','3':'#eaa3a3','4':'#e38181','5':'#da5d5d','6':'#d03030'};
const heatMatrix=heatGenes.map((g,i)=>(heatIgAN[i].padEnd(19,'0').slice(0,19)+heatNormal[i].padEnd(21,'0').slice(0,21)));
const sampleLabelPlugin={id:'sampleLabels',afterDraw(ch){const g=ch.ctx,x=ch.scales.x;g.save();g.font='12px "DejaVu Sans"';g.fillStyle='#222';g.textAlign='left';g.textBaseline='middle';
 heatSamples.forEach((s,i)=>{g.save();g.translate(x.getPixelForValue(i+.5),ch.chartArea.bottom+3);g.rotate(Math.PI/2);g.fillText(s,0,0);g.restore();});g.restore();}};
plotChart({l:0,t:1595,r:830,b:2420},{l:26.9,t:1614,r:749.7,b:2336.7},{type:'bar',plugins:[sampleLabelPlugin],data:{labels:heatGenes,
 datasets:heatSamples.map((s,j)=>({label:s,data:heatGenes.map(()=>1),backgroundColor:heatMatrix.map(r=>heatPalette[r[j]]),barPercentage:1,categoryPercentage:1,borderWidth:0,inflateAmount:.4}))},
 options:{indexAxis:'y',scales:{x:{display:false,stacked:true,min:0,max:40},
  y:{stacked:true,position:'right',type:'category',border:{display:false},grid:{display:false,drawTicks:false,tickLength:0},ticks:{autoSkip:false,padding:2,color:'#222',font:{family:OS,size:10}}}}}},true);
{const b={l:27,t:1582,r:750,b:1596};const c=mkCanvas(b);new Chart(c,{type:'bar',data:{labels:['Type'],datasets:[{label:'IgAN',data:[19],backgroundColor:'#377EB8'},{label:'Normal',data:[21],backgroundColor:'#E41A1C'}]},
 options:{responsive:false,animation:false,devicePixelRatio:1,indexAxis:'y',plugins:{legend:{display:false},tooltip:{enabled:false}},datasets:{bar:{barPercentage:1,categoryPercentage:1}},scales:{x:{display:false,stacked:true,min:0,max:40},y:{display:false,stacked:true}}}});}
txt('IgAN',187,1588,{anchor:'c',size:12.5});txt('Normal',570,1590,{anchor:'c',size:12.5});txt('Type',752,1589,{size:12});
txt('(E)',2,1552,{size:34});
{const mix=(a,b,t)=>`rgb(${a.map((v,i)=>Math.round(v+(b[i]-v)*t)).join(',')})`;
const legendSteps=[...Array(14).keys()].map(i=>mix([12,12,134],[236,236,246],i/13)).concat(['#fff','#fff'],[...Array(13).keys()].map(i=>mix([250,234,234],[210,52,52],i/12)));
const c=mkCanvas({l:186,t:2463,r:605,b:2478});new Chart(c,{type:'bar',data:{labels:['scale'],datasets:legendSteps.map((col,i)=>({label:'step '+i,data:[1],backgroundColor:col}))},
 options:{responsive:false,animation:false,devicePixelRatio:1,indexAxis:'y',plugins:{legend:{display:false},tooltip:{enabled:false}},datasets:{bar:{barPercentage:1,categoryPercentage:1}},scales:{x:{display:false,stacked:true,min:0,max:29},y:{display:false,stacked:true}}}});}
txt('Low',163,2444,{anchor:'c',size:13});txt('High',627,2444,{anchor:'c',size:13});

// ---------- (F) ----------
rect(856.5,1593,772,486,'#fff','border:3px solid #cfcfcf;box-sizing:border-box');
plotChart({l:806,t:1575,r:1640,b:2115},{l:858,t:1594.5,r:1627,b:2077.3},{type:'scatter',data:{datasets:[
 {label:'up',order:2,data:tp(upPoints),pointRadius:2.8,pointBorderWidth:0,backgroundColor:'rgba(255,0,0,.5)'},
 {label:'up (dense)',order:1,data:fromRows(upDenseRows),pointRadius:3,pointBorderWidth:0,backgroundColor:'rgba(255,0,0,.95)'},
 {label:'down',order:4,data:tp(downPoints),pointRadius:2.8,pointBorderWidth:0,backgroundColor:'rgba(0,0,255,.5)'},
 {label:'down (dense)',order:3,data:fromRows(downDenseRows),pointRadius:3,pointBorderWidth:0,backgroundColor:'rgba(0,0,255,.95)'},
 {label:'Non-significant',order:5,data:fromRows(greyRows),pointRadius:2.4,pointBorderWidth:0,backgroundColor:'#d0d0d0'}]},
 options:{scales:{
  x:{type:'linear',min:-3,max:3,border:{display:false},grid:{color:c=>c.tick&&Math.abs(c.tick.value)%2===0&&Math.abs(c.tick.value)<3?'#d8d8d8':'rgba(0,0,0,0)',lineWidth:c=>c.tick&&c.tick.value===0?1.5:2,tickLength:3,tickColor:'#cfcfcf',tickWidth:2},
     ticks:{stepSize:1,autoSkip:false,maxRotation:0,padding:1,color:'#222',font:{family:LS,size:23},callback:fx0}},
  y:{type:'linear',min:-.615,max:15,border:{display:false},grid:{color:c=>c.tick&&c.tick.value===0?'#d8d8d8':'rgba(0,0,0,0)',lineWidth:1.5,tickLength:2,tickColor:'#cfcfcf',tickWidth:2},
     title:{display:true,text:'-log10(p)',color:'#222',padding:0,font:{family:LS,size:23}},
     ticks:{stepSize:5,includeBounds:false,autoSkip:false,padding:5,color:'#222',font:{family:LS,size:23},callback:fx0}}}}});
txt('Log2 Fold Change',1265,2121,{anchor:'c',size:24,family:LS});
txt('(F)',841,1556,{size:34});
const badge=(s,cx,bg)=>{rect(cx-32,1612,64,44,bg,'border-radius:18px');txt(s,cx,1634,{anchor:'c',size:21,color:'#fff'});};
badge('2107',1114.5,'#3c3ce8');badge('2070',1373.6,'#ef3030');
txt('Group',1692,1771,{anchor:'c',size:24,family:LS});
rect(1634,1803.5,8,8,'#d0d0d0','border-radius:50%');rect(1634,1831,8,8,'rgba(70,70,255,.7)','border-radius:50%');rect(1634,1860,8,8,'rgba(255,70,70,.7)','border-radius:50%');
txt('Non-significant',1641,1807.6,{size:20.5,family:LS});txt('down',1643,1835,{size:20.5,family:LS});txt('up',1643,1864,{size:20.5,family:LS});
</script></body></html>
